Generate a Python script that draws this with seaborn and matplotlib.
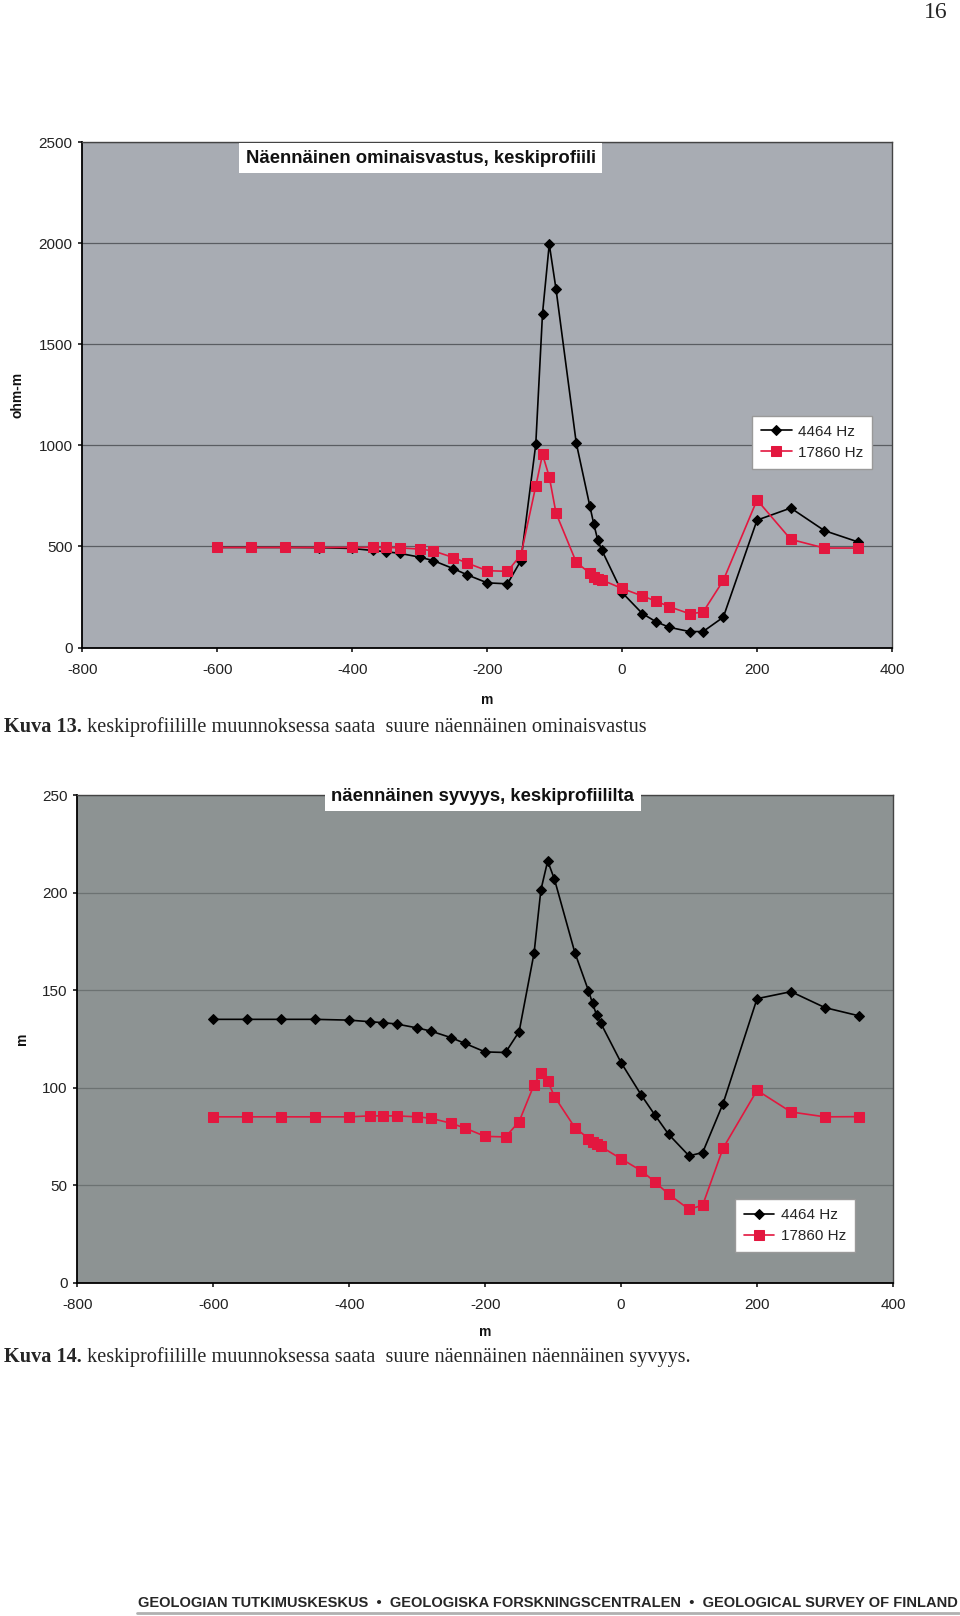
import matplotlib
matplotlib.use("Agg")
import matplotlib.pyplot as plt
import seaborn as sns
from matplotlib.lines import Line2D

# Measurement positions along the profile (m)
positions = [-600, -550, -500, -450, -400, -370, -350, -330, -300, -280, -250, -230,
             -200, -170, -150, -128, -118, -108, -98, -68, -48, -42, -36, -30,
             0, 30, 50, 70, 100, 120, 150, 200, 250, 300, 350]

# Apparent resistivity (ohm-m)
rho_4464 = [495, 495, 495, 494, 490, 480, 474, 466, 447, 430, 390, 360,
            320, 315, 430, 1005, 1652, 1995, 1773, 1012, 702, 611, 530, 481,
            272, 168, 128, 100, 79, 79, 150, 630, 690, 578, 522]
rho_17860 = [495, 495, 495, 495, 495, 495, 495, 493, 487, 478, 445, 418,
             380, 377, 458, 798, 955, 845, 665, 422, 368, 351, 339, 334,
             292, 255, 230, 202, 167, 175, 332, 730, 535, 492, 492]

# Apparent depth (m)
depth_4464 = [135, 135, 135, 135, 134.6, 133.8, 133.3, 132.6, 130.6, 129, 125.6, 122.7,
              118.3, 118, 128.7, 169, 201.3, 216.2, 206.8, 169.2, 149.7, 143.2, 137.2, 133.1,
              112.8, 96, 85.8, 76, 65, 66.7, 91.8, 145.6, 149.2, 141, 136.8]
depth_17860 = [85, 85, 85, 85, 85, 85.5, 85.5, 85.5, 85, 84.3, 81.7, 79.3,
               75, 74.7, 82.6, 101.5, 107.7, 103.4, 95.4, 79.5, 73.9, 72.1, 70.9, 69.8,
               63.5, 57.3, 51.6, 45.3, 37.6, 39.7, 68.9, 98.6, 87.5, 85, 85.1]

labels = ["4464 Hz", "17860 Hz"]
x_ticks = [-800, -600, -400, -200, 0, 200, 400]

sns.set_theme(style="white")
plt.rcParams["font.family"] = ["Liberation Sans", "DejaVu Sans"]
plt.rcParams["axes.unicode_minus"] = False

RED = "#e3173f"
fig = plt.figure(figsize=(9.6, 16.16), dpi=100, facecolor="white")


def draw_panel(ax, black, red, ymax, ystep, bg, grid, title, title_xy, ylabel,
               ylab_x, xlab_y, leg_anchor):
    ax.set_facecolor(bg)
    sns.lineplot(x=positions, y=black, ax=ax, color="black", marker="D",
                 markersize=5, markeredgecolor="black", linewidth=1.2, label=labels[0])
    sns.lineplot(x=positions, y=red, ax=ax, color=RED, marker="s",
                 markersize=6.5, markeredgecolor=RED, linewidth=1.2, label=labels[1])
    ax.set_xlim(-800, 400)
    ax.set_ylim(0, ymax)
    ax.set_xticks(x_ticks)
    ax.set_yticks(range(0, ymax + 1, ystep))
    ax.yaxis.grid(True, color=grid, linewidth=0.9)
    ax.xaxis.grid(False)
    ax.tick_params(axis="y", length=3, pad=4, labelsize=11, colors="#222222", left=True)
    ax.tick_params(axis="x", length=3, pad=8, labelsize=11, colors="#222222", bottom=True)
    for side in ["left", "bottom"]:
        ax.spines[side].set_color("black")
        ax.spines[side].set_linewidth(1.3)
    for side in ["top", "right"]:
        ax.spines[side].set_color("#444444")
        ax.spines[side].set_linewidth(1.0)
    ax.set_ylabel(ylabel, fontweight="bold", fontsize=10, color="#111111")
    ax.yaxis.set_label_coords(ylab_x, 0.5)
    ax.set_xlabel("m", fontweight="bold", fontsize=10, color="#111111")
    ax.xaxis.set_label_coords(0.5, xlab_y)
    ax.text(title_xy[0], title_xy[1], title, transform=ax.transAxes, ha="center",
            va="center", fontweight="bold", fontsize=13.3, color="#111111", zorder=5,
            bbox=dict(facecolor="white", edgecolor="none", boxstyle="square,pad=0.35"))
    leg = ax.legend(loc="upper left", bbox_to_anchor=leg_anchor, frameon=True,
                    fancybox=False, edgecolor="#999999", framealpha=1, fontsize=11,
                    borderpad=0.6, borderaxespad=0, handlelength=2.0,
                    handletextpad=0.4, labelspacing=0.45)
    leg.get_frame().set_linewidth(1.0)


ax1 = fig.add_axes([0.0859, 0.5993, 0.8432, 0.3128])
draw_panel(ax1, rho_4464, rho_17860, 2500, 500, "#a8acb3", "#5a5d62",
           "Näennäinen ominaisvastus, keskiprofiili", (0.418, 0.968), "ohm-m",
           -0.071, -0.09, (0.827, 0.459))

ax2 = fig.add_axes([0.0805, 0.2063, 0.8497, 0.3017])
draw_panel(ax2, depth_4464, depth_17860, 250, 50, "#8d9393", "#6c7272",
           "näennäinen syvyys, keskiprofiililta", (0.497, 0.997), "m",
           -0.059, -0.087, (0.806, 0.171))

# Captions under the charts
serif = ["Liberation Serif", "DejaVu Serif"]
cap1 = fig.text(4 / 960, 1 - 727 / 1616, "Kuva 13.", fontweight="bold",
                family=serif, fontsize=14.6, va="center")
ax1.annotate(" keskiprofiilille muunnoksessa saata  suure näennäinen ominaisvastus",
             xy=(1, 0.5), xycoords=cap1, va="center", family=serif, fontsize=14.6,
             annotation_clip=False)
cap2 = fig.text(4 / 960, 1 - 1357 / 1616, "Kuva 14.", fontweight="bold",
                family=serif, fontsize=14.6, va="center")
ax2.annotate(" keskiprofiilille muunnoksessa saata  suure näennäinen näennäinen syvyys.",
             xy=(1, 0.5), xycoords=cap2, va="center", family=serif, fontsize=14.6,
             annotation_clip=False)

# Page number and footer
fig.text(0.975, 1 - 12 / 1616, "16", family=serif, fontsize=17, ha="center", va="center")
footer = fig.text(548 / 960, 1 - 1603 / 1616,
                  "GEOLOGIAN TUTKIMUSKESKUS  \u2022  GEOLOGISKA FORSKNINGSCENTRALEN  \u2022  "
                  "GEOLOGICAL SURVEY OF FINLAND",
                  fontweight="bold", fontsize=10, ha="center", va="center")
fig.canvas.draw()
w = footer.get_window_extent().width
footer.set_fontsize(10 * 818 / w)
fig.add_artist(Line2D([137 / 960, 959 / 960], [1 - 1613 / 1616] * 2,
                      color="#b0b0b0", linewidth=2))

fig.savefig("out.png", dpi=100, facecolor="white")
